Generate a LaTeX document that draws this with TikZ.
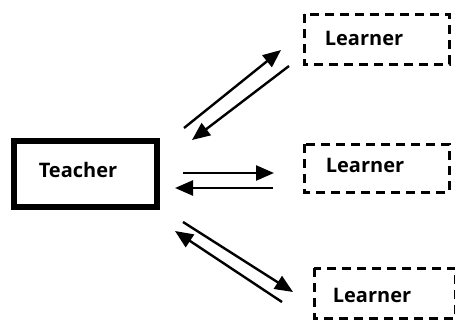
\documentclass[tikz,border=0pt]{standalone}
\usepackage{fontspec}
\setmainfont{Open Sans}
\usetikzlibrary{arrows.meta}
\begin{document}
\begin{tikzpicture}[x=1pt,y=-1pt,
  lbl/.style={font=\fontsize{20}{22}\selectfont\bfseries, inner sep=0pt},
  tbox/.style={draw, line width=6pt},
  lbox/.style={draw, line width=3pt, dash pattern=on 9pt off 6pt},
  arr/.style={line width=2.4pt, -{Triangle[length=18pt,width=15pt]}}]
\useasboundingbox (0,0) rectangle (455,322);
\draw[tbox] (14,141) rectangle (157,207);
\node[lbl] (t) at (78,170) {Teacher};
\draw[lbox] (304,14) rectangle (449,64);
\node[lbl] (l1) at (364,38) {Learner};
\draw[lbox] (304,144) rectangle (449,192);
\node[lbl] (l2) at (365,165) {Learner};
\draw[lbox] (314,268) rectangle (455,318);
\node[lbl] (l3) at (372,295) {Learner};
\coordinate (a1s) at (184,128); \coordinate (a1e) at (281,50);
\coordinate (b1s) at (289,66); \coordinate (b1e) at (192,140);
\coordinate (a2s) at (183,173); \coordinate (a2e) at (274,173);
\coordinate (b2s) at (273,188); \coordinate (b2e) at (175,188);
\coordinate (a3s) at (183,222); \coordinate (a3e) at (293,292);
\coordinate (b3s) at (282,302); \coordinate (b3e) at (175,231);
\draw[arr] (a1s) -- (a1e);
\draw[arr] (b1s) -- (b1e);
\draw[arr] (a2s) -- (a2e);
\draw[arr] (b2s) -- (b2e);
\draw[arr] (a3s) -- (a3e);
\draw[arr] (b3s) -- (b3e);
\end{tikzpicture}
\end{document}
